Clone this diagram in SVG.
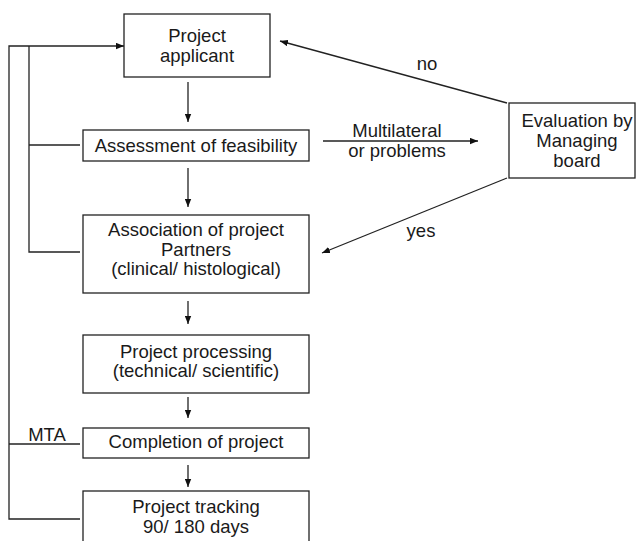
<svg xmlns="http://www.w3.org/2000/svg" width="636" height="541" viewBox="0 0 636 541">
<defs>
<marker id="ah" viewBox="0 0 10 8" refX="10" refY="4" markerWidth="8" markerHeight="7" markerUnits="userSpaceOnUse" orient="auto">
<path d="M0,0 L10,4 L0,8 z" fill="#111"/>
</marker>
</defs>
<style>
.box{fill:#fff;stroke:#222;stroke-width:1.3}
.ln{fill:none;stroke:#222;stroke-width:1.3}
.ar{fill:none;stroke:#222;stroke-width:1.3;marker-end:url(#ah)}
text{font-family:"Liberation Sans",Arial,sans-serif;font-size:18.5px;fill:#1a1a1a;text-anchor:middle}
</style>
<rect width="636" height="541" fill="#fff"/>
<g id="connectors">
<polyline class="ln" points="80,519 9,519 9,46 29,46"/>
<line class="ar" x1="29" y1="46" x2="124" y2="46"/>
<polyline class="ln" points="29,46 29,252 80,252"/>
<line class="ln" x1="29" y1="145" x2="80" y2="145"/>
<line class="ln" x1="9" y1="444" x2="80" y2="444"/>
<line class="ar" x1="188" y1="82" x2="188" y2="122"/>
<line class="ar" x1="188" y1="168" x2="188" y2="207"/>
<line class="ar" x1="188" y1="301" x2="188" y2="324"/>
<line class="ar" x1="188" y1="397" x2="188" y2="418"/>
<line class="ar" x1="188" y1="465" x2="188" y2="487"/>
<line class="ar" x1="507" y1="103" x2="280" y2="41"/>
<line class="ar" x1="323" y1="141" x2="478" y2="141"/>
<line class="ar" x1="507" y1="178" x2="322" y2="253"/>
<text x="427" y="70">no</text>
<text x="397" y="137">Multilateral</text>
<text x="397" y="157">or problems</text>
<text x="421" y="237">yes</text>
<text x="47" y="441">MTA</text>
</g>
<g id="applicant">
<rect class="box" x="124" y="14" width="146" height="63"/>
<text x="197" y="42">Project</text>
<text x="197" y="62">applicant</text>
</g>
<g id="feasibility">
<rect class="box" x="83" y="130" width="226" height="31"/>
<text x="196" y="152">Assessment of feasibility</text>
</g>
<g id="association">
<rect class="box" x="83" y="215" width="226" height="78"/>
<text x="196" y="236">Association of project</text>
<text x="196" y="256">Partners</text>
<text x="196" y="275">(clinical/ histological)</text>
</g>
<g id="processing">
<rect class="box" x="83" y="335" width="226" height="58"/>
<text x="196" y="358">Project processing</text>
<text x="196" y="377">(technical/ scientific)</text>
</g>
<g id="completion">
<rect class="box" x="83" y="428" width="226" height="30"/>
<text x="196" y="448">Completion of project</text>
</g>
<g id="tracking">
<rect class="box" x="83" y="491" width="226" height="60"/>
<text x="196" y="513">Project tracking</text>
<text x="196" y="533">90/ 180 days</text>
</g>
<g id="evaluation">
<rect class="box" x="509" y="103" width="126" height="75"/>
<text x="577" y="127">Evaluation by</text>
<text x="577" y="147">Managing</text>
<text x="577" y="167">board</text>
</g>
</svg>
